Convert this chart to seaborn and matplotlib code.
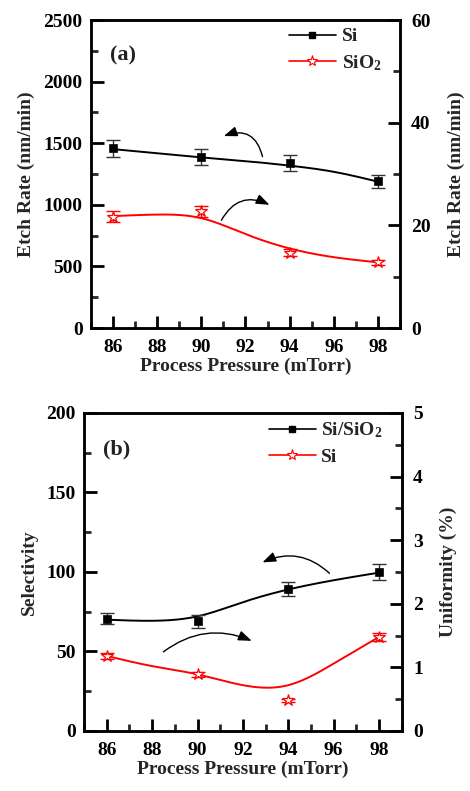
import numpy as np
import pandas as pd
import matplotlib
matplotlib.use("Agg")
import matplotlib.pyplot as plt
import seaborn as sns
from matplotlib.ticker import MultipleLocator
from matplotlib.patches import FancyArrowPatch
from matplotlib.lines import Line2D

# ---------------- data ----------------
pressure = [86, 90, 94, 98]
# panel (a)
si_rate = [1458, 1385, 1342, 1190]
si_rate_err = [70, 65, 65, 55]
sio2_rate = [21.7, 22.7, 14.7, 12.8]
sio2_rate_err = [1.0, 1.0, 0.7, 0.5]
# smooth fit curves (a)
fit_x = [86, 88, 90, 92, 94, 96, 98]
si_rate_fit = [1452, 1418, 1385, 1355, 1318, 1268, 1188]
sio2_rate_fit = [21.8, 22.1, 21.4, 18.3, 15.5, 13.8, 12.8]
# panel (b)
selectivity = [70.5, 69, 89.5, 100]
selectivity_err = [3.5, 4, 4.5, 5]
uniformity = [1.18, 0.89, 0.48, 1.48]
uniformity_err = [0.05, 0.04, 0.03, 0.06]
selectivity_fit = [70.0, 69.3, 72.1, 81.0, 89.0, 94.8, 99.6]
uniformity_fit = [1.18, 1.02, 0.89, 0.72, 0.72, 1.06, 1.48]

xticks = [86, 88, 90, 92, 94, 96, 98]

# ---------------- style ----------------
sns.set_theme(style="ticks")
plt.rcParams['font.family'] = ['Liberation Serif', 'DejaVu Serif']
plt.rcParams['font.weight'] = 'bold'
plt.rcParams['axes.labelweight'] = 'bold'
plt.rcParams['mathtext.fontset'] = 'custom'
plt.rcParams['mathtext.rm'] = 'Liberation Serif:bold'
plt.rcParams['mathtext.it'] = 'Liberation Serif:bold'
plt.rcParams['mathtext.bf'] = 'Liberation Serif:bold'
plt.rcParams['mathtext.default'] = 'rm'

FS = 14

fig = plt.figure(figsize=(4.70, 7.91), dpi=100)
axA = fig.add_axes([0.1936, 0.5853, 0.851 - 0.1936, 0.9747 - 0.5853])
axB = fig.add_axes([0.1787, 0.0759, 0.855 - 0.1787, 0.4779 - 0.0759])


def smooth(xs, ys):
    """natural cubic spline through the read-off fit points"""
    x = np.asarray(xs, float)
    y = np.asarray(ys, float)
    n = len(x)
    h = np.diff(x)
    A = np.zeros((n, n))
    b = np.zeros(n)
    A[0, 0] = A[-1, -1] = 1
    for i in range(1, n - 1):
        A[i, i - 1] = h[i - 1]
        A[i, i] = 2 * (h[i - 1] + h[i])
        A[i, i + 1] = h[i]
        b[i] = 3 * ((y[i + 1] - y[i]) / h[i] - (y[i] - y[i - 1]) / h[i - 1])
    c = np.linalg.solve(A, b)
    xx = np.linspace(x[0], x[-1], 300)
    yy = np.empty_like(xx)
    for k, xv in enumerate(xx):
        i = min(np.searchsorted(x, xv, side='right') - 1, n - 2)
        dx = xv - x[i]
        bi = (y[i + 1] - y[i]) / h[i] - h[i] * (2 * c[i] + c[i + 1]) / 3
        di = (c[i + 1] - c[i]) / (3 * h[i])
        yy[k] = y[i] + bi * dx + c[i] * dx ** 2 + di * dx ** 3
    return xx, yy


def style_axis(ax):
    for s in ax.spines.values():
        s.set_linewidth(1.8)
        s.set_color('black')
    ax.tick_params(which='major', direction='in', length=9, width=2,
                   labelsize=FS, colors='black')
    ax.tick_params(which='minor', direction='in', length=5, width=2)
    for lab in ax.get_xticklabels() + ax.get_yticklabels():
        lab.set_fontweight('bold')


def panel(ax, y1, e1, f1, y2, e2, f2, ylim1, ylim2, maj1, maj2,
          lab1, lab2, leg1, leg2, tag):
    ax2 = ax.twinx()
    df1 = pd.DataFrame({'x': pressure, 'y': y1})
    xx, yy = smooth(fit_x, f1)
    sns.lineplot(x=xx, y=yy, ax=ax, color='black', lw=1.4, legend=False)
    ax.errorbar(pressure, y1, yerr=e1, fmt='none', ecolor='#333333',
                elinewidth=1.0, capsize=5, capthick=1.0)
    sns.scatterplot(data=df1, x='x', y='y', ax=ax, marker='s', s=36,
                    color='black', edgecolor='black', legend=False, zorder=5)

    xx, yy = smooth(fit_x, f2)
    sns.lineplot(x=xx, y=yy, ax=ax2, color='red', lw=1.4, legend=False)
    ax2.errorbar(pressure, y2, yerr=e2, fmt='none', ecolor='red',
                 elinewidth=1.0, capsize=5, capthick=1.0)
    ax2.plot(pressure, y2, ls='none', marker='*', ms=9, mfc='white',
             mec='red', mew=0.9, zorder=5)

    ax.set_xlim(85, 99)
    ax.set_ylim(*ylim1)
    ax2.set_ylim(*ylim2)
    ax.set_xticks(xticks)
    ax.xaxis.set_minor_locator(MultipleLocator(1))
    ax.yaxis.set_major_locator(MultipleLocator(maj1))
    ax.yaxis.set_minor_locator(MultipleLocator(maj1 / 2))
    ax2.yaxis.set_major_locator(MultipleLocator(maj2))
    ax2.yaxis.set_minor_locator(MultipleLocator(maj2 / 2))
    style_axis(ax)
    style_axis(ax2)
    ax.tick_params(axis='x', pad=8)
    ax.tick_params(axis='y', pad=6)
    ax2.tick_params(axis='y', pad=8)
    ax.set_xlabel('Process Pressure (mTorr)', fontsize=FS, fontweight='bold',
                  labelpad=1)
    ax.set_ylabel(lab1, fontsize=FS, fontweight='bold', labelpad=6)
    ax2.set_ylabel(lab2, fontsize=FS, fontweight='bold', labelpad=12)

    h1 = Line2D([], [], color='black', lw=1.2, marker='s', ms=5)
    h2 = Line2D([], [], color='red', lw=1.2, marker='*', ms=8, mfc='white',
                mec='red', mew=0.8)
    ax.legend([h1, h2], [leg1, leg2], loc='upper right', frameon=False,
              bbox_to_anchor=(0.965, 1.0),
              prop={'size': FS, 'weight': 'bold'}, handlelength=2.4,
              handletextpad=0.3, labelspacing=0.4, borderaxespad=0.0)
    ax.text(0.06, 0.87, tag, transform=ax.transAxes, fontsize=FS + 2,
            fontweight='bold', color='#222222')
    return ax2


ax2A = panel(axA, si_rate, si_rate_err, si_rate_fit,
             sio2_rate, sio2_rate_err, sio2_rate_fit,
             (0, 2500), (0, 60), 500, 20,
             'Etch Rate (nm/min)', 'Etch Rate (nm/min)',
             'Si', 'SiO$_{2}$', '(a)')
ax2B = panel(axB, selectivity, selectivity_err, selectivity_fit,
             uniformity, uniformity_err, uniformity_fit,
             (0, 200), (0, 5), 50, 1,
             'Selectivity', 'Uniformity (%)',
             'Si/SiO$_{2}$', 'Si', '(b)')


def carrow(ax, start, end, rad):
    a = FancyArrowPatch(start, end, connectionstyle=f"arc3,rad={rad}",
                        arrowstyle='-|>,head_length=8,head_width=3',
                        color='black', lw=1.0, zorder=6)
    ax.add_patch(a)

carrow(axA, (92.8, 1369), (90.9, 1550), 0.6)
carrow(axA, (90.85, 855), (93.2, 990), -0.5)
carrow(axB, (95.9, 98), (92.75, 105.3), 0.35)
carrow(axB, (88.4, 48.7), (92.5, 56), -0.3)

fig.savefig('out.png', dpi=100)
